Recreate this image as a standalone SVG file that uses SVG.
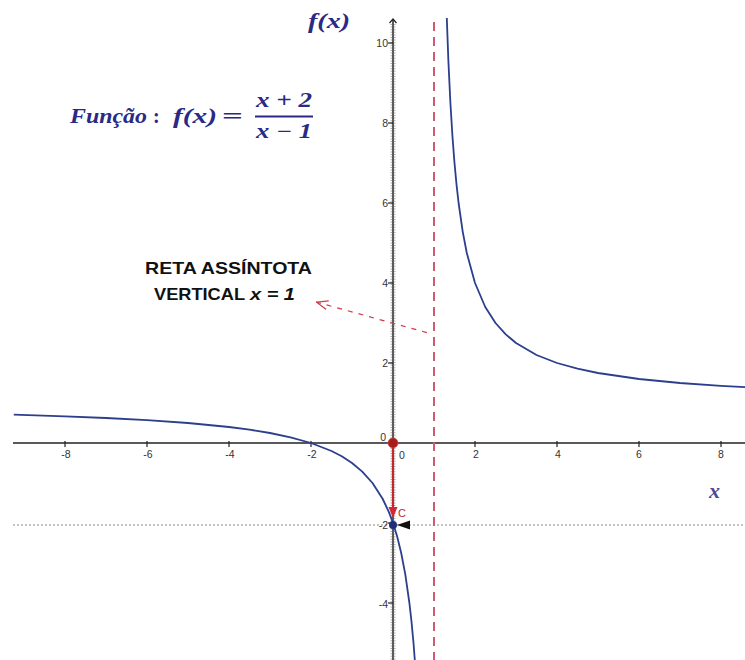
<svg xmlns="http://www.w3.org/2000/svg" width="745" height="660" viewBox="0 0 745 660">
  <style>
    .tick { stroke: #222; stroke-width: 1.2; }
    .tl { font-family: "Liberation Sans", Arial, sans-serif; font-size: 10.5px; fill: #333; }
    .math { font-family: "Liberation Serif", "Times New Roman", serif; font-weight: bold; font-style: italic; fill: #2a2a86; }
    .mup { font-family: "Liberation Serif", "Times New Roman", serif; font-weight: bold; fill: #2a2a86; }
    .ann { font-family: "Liberation Sans", Arial, sans-serif; font-weight: bold; font-size: 16.5px; fill: #111; }
    .curve { fill: none; stroke: #2b3f8c; stroke-width: 1.8; stroke-linejoin: round; }
  </style>
  <defs>
    <clipPath id="plot"><rect x="13" y="18" width="732" height="642"/></clipPath>
    <marker id="openArrow" viewBox="0 0 12 10" refX="0" refY="5" markerWidth="12" markerHeight="10" markerUnits="userSpaceOnUse" orient="auto">
      <path d="M12,0.5 L0.5,5 L12,9.5" fill="none" stroke="#d03a4a" stroke-width="1.2"/>
    </marker>
    <marker id="upArrow" viewBox="0 0 10 10" refX="5" refY="1" markerWidth="10" markerHeight="10" markerUnits="userSpaceOnUse" orient="0">
      <path d="M1.5,5 L5,1 L8.5,5" fill="none" stroke="#222" stroke-width="1.2"/>
    </marker>
  </defs>
  <rect width="745" height="660" fill="#fff"/>

  <!-- grid / helper lines -->
  <g id="helper-lines">
    <line x1="13" y1="525" x2="745" y2="525" stroke="#8a8a8a" stroke-width="1.2" stroke-dasharray="2 2"/>
  </g>

  <!-- axes -->
  <g id="axes">
    <line x1="13" y1="443" x2="745" y2="443" stroke="#222" stroke-width="1.5"/>
    <line x1="393" y1="660" x2="393" y2="19" stroke="#222" stroke-width="1.5" marker-end="url(#upArrow)"/>
    <line x1="393" y1="24" x2="393" y2="660" stroke="#666" stroke-width="5" stroke-dasharray="1 1.6" opacity="0.55"/>
    <g id="x-ticks">
      <line class="tick" x1="65" y1="441" x2="65" y2="447"/>
      <line class="tick" x1="147" y1="441" x2="147" y2="447"/>
      <line class="tick" x1="229" y1="441" x2="229" y2="447"/>
      <line class="tick" x1="311" y1="441" x2="311" y2="447"/>
      <line class="tick" x1="475" y1="441" x2="475" y2="447"/>
      <line class="tick" x1="557" y1="441" x2="557" y2="447"/>
      <line class="tick" x1="639" y1="441" x2="639" y2="447"/>
      <line class="tick" x1="721" y1="441" x2="721" y2="447"/>
    </g>
    <g id="y-ticks">
      <line class="tick" x1="388" y1="43" x2="393" y2="43"/>
      <line class="tick" x1="388" y1="123" x2="393" y2="123"/>
      <line class="tick" x1="388" y1="203" x2="393" y2="203"/>
      <line class="tick" x1="388" y1="283" x2="393" y2="283"/>
      <line class="tick" x1="388" y1="363" x2="393" y2="363"/>
      <line class="tick" x1="388" y1="523" x2="393" y2="523"/>
      <line class="tick" x1="388" y1="603" x2="393" y2="603"/>
    </g>
    <g id="x-labels" text-anchor="middle">
      <text class="tl" x="66" y="458">-8</text>
      <text class="tl" x="148" y="458">-6</text>
      <text class="tl" x="230" y="458">-4</text>
      <text class="tl" x="312" y="458">-2</text>
      <text class="tl" x="402" y="459">0</text>
      <text class="tl" x="476" y="458">2</text>
      <text class="tl" x="558" y="458">4</text>
      <text class="tl" x="639" y="458">6</text>
      <text class="tl" x="721" y="458">8</text>
    </g>
    <g id="y-labels" text-anchor="end">
      <text class="tl" x="388" y="47">10</text>
      <text class="tl" x="388" y="127">8</text>
      <text class="tl" x="388" y="207">6</text>
      <text class="tl" x="388" y="287">4</text>
      <text class="tl" x="388" y="367">2</text>
      <text class="tl" x="386" y="441">0</text>
      <text class="tl" x="388" y="529">-2</text>
      <text class="tl" x="388" y="608">-4</text>
    </g>
    <text id="x-axis-label" class="math" x="709" y="498" font-size="22" fill="#4848a8" opacity="0.85">x</text>
    <text id="y-axis-label" class="math" x="308" y="28" font-size="20" textLength="42" lengthAdjust="spacingAndGlyphs" fill="#3a3aa6">f(x)</text>
  </g>

  <!-- asymptote -->
  <g id="asymptote">
    <line x1="434" y1="22" x2="434" y2="660" stroke="#cf5b72" stroke-width="2" stroke-dasharray="9 6"/>
  </g>

  <!-- function graph -->
  <g id="graph" clip-path="url(#plot)">
    <polyline class="curve" points="13.75,414.7 65,416.3 106,418 147,420.1 188,423 229,427 249.5,429.7 270,433 290.5,437.3 311,443 331.5,451 341.75,456.3 352,463 362.25,471.6 372.5,483 382.75,499 388.9,512.1 393,523 397.1,536.3 401.2,553 405.3,574.4 409.4,603 411.45,621.2 413.5,643 415.1,663.9"/>
    <polyline class="curve" points="446.8,18 448.35,60.1 450.4,103 452.45,136.3 454.5,163 456.55,184.8 458.6,203 462.7,231.6 466.8,253 475,283 485.25,307 495.5,323 505.75,334.4 516,343 536.5,355 557,363 577.5,368.7 598,373 639,379 680,383 721,385.9 746,387.2"/>
  </g>

  <!-- points and vector -->
  <g id="vector-OC">
    <line x1="393" y1="443" x2="393" y2="510" stroke="#c0282e" stroke-width="2.2"/>
    <polygon points="388.5,507 397.5,507 393,518" fill="#d0283a"/>
    <text x="398" y="517" font-family="'Liberation Sans', Arial, sans-serif" font-size="11" fill="#c0283a">C</text>
  </g>
  <g id="point-origin">
    <circle cx="393" cy="443" r="5" fill="#a81c1c" stroke="#d04848" stroke-width="1" stroke-opacity="0.6"/>
  </g>
  <g id="point-intercept">
    <circle cx="393" cy="525" r="4" fill="#1f2f7a"/>
    <polygon points="397,525 410,520.5 410,529.5" fill="#111"/>
  </g>

  <!-- formula -->
  <g id="formula">
    <text class="math" x="70" y="123" font-size="20" textLength="77" lengthAdjust="spacingAndGlyphs">Função</text>
    <text class="mup" x="153" y="123" font-size="20">:</text>
    <text class="math" x="173" y="123" font-size="21" textLength="44" lengthAdjust="spacingAndGlyphs">f(x)</text>
    <text class="mup" x="222" y="123" font-size="22" textLength="21" lengthAdjust="spacingAndGlyphs">=</text>
    <text class="math" x="256" y="107" font-size="20" textLength="56" lengthAdjust="spacingAndGlyphs">x + 2</text>
    <line x1="255" y1="116.5" x2="313" y2="116.5" stroke="#2a2a86" stroke-width="1.8"/>
    <text class="math" x="256" y="138" font-size="20" textLength="56" lengthAdjust="spacingAndGlyphs">x − 1</text>
  </g>

  <!-- annotation -->
  <g id="annotation">
    <text class="ann" x="145" y="274" textLength="167" lengthAdjust="spacingAndGlyphs">RETA ASSÍNTOTA</text>
    <text class="ann" x="154" y="300" textLength="91" lengthAdjust="spacingAndGlyphs">VERTICAL</text>
    <text class="ann" x="250" y="300" font-style="italic" textLength="45" lengthAdjust="spacingAndGlyphs">x = 1</text>
  </g>
  <g id="connectors">
    <line x1="316" y1="302" x2="432" y2="334" stroke="#d03a4a" stroke-width="1.2" stroke-dasharray="5 6" marker-start="url(#openArrow)"/>
  </g>
</svg>
